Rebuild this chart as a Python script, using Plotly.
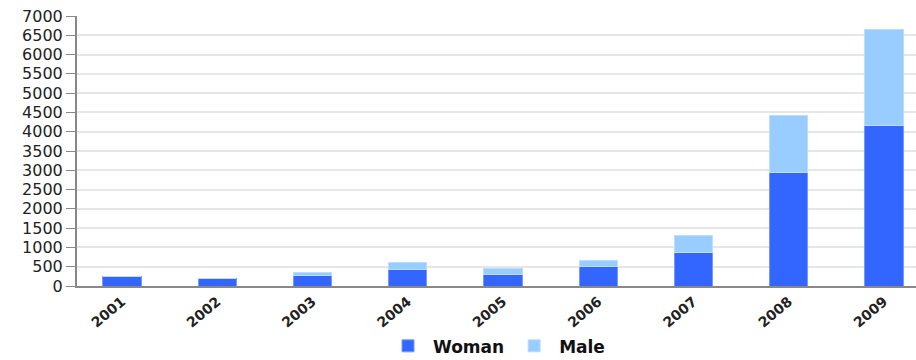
import plotly.graph_objects as go

years = ["2001", "2002", "2003", "2004", "2005", "2006", "2007", "2008", "2009"]
woman = [240, 200, 285, 433, 311, 500, 880, 2947, 4174]
male = [0, 0, 70, 172, 147, 165, 433, 1486, 2489]
y_ticks = list(range(0, 7001, 500))

fig = go.Figure()
fig.add_trace(go.Bar(x=years, y=woman, name="Woman",
                     marker=dict(color="#3366ff", line=dict(color="#7799ff", width=1))))
fig.add_trace(go.Bar(x=years, y=male, name="Male",
                     marker=dict(color="#99ccff", line=dict(color="#bbddff", width=1))))

fig.update_layout(
    barmode="stack",
    bargap=0.6,
    width=916, height=360,
    margin=dict(l=77, r=0, t=16, b=74),
    plot_bgcolor="white",
    paper_bgcolor="white",
    font=dict(family="DejaVu Sans", color="#222222"),
    showlegend=True,
    legend=dict(orientation="h", x=0.5, xanchor="center",
                yref="container", y=0.088, yanchor="top",
                font=dict(size=17, family="DejaVu Sans", color="#111111", weight="bold"),
                itemwidth=40, traceorder="normal"),
    xaxis=dict(type="category", range=[-0.472, 8.336], showgrid=False, automargin=False,
               showline=True, linecolor="#888888", linewidth=2,
               tickangle=-40, tickfont=dict(size=14, weight="bold", color="#222222"),
               ticks=""),
    yaxis=dict(range=[0, 7000], tickvals=y_ticks, showgrid=True, automargin=False,
               gridcolor="#e6e6e6", gridwidth=2,
               showline=True, linecolor="#888888", linewidth=2,
               ticks="outside", ticklen=9, tickcolor="#888888",
               tickfont=dict(size=16, color="#222222"), zeroline=False),
)

fig.write_html("out.html")
